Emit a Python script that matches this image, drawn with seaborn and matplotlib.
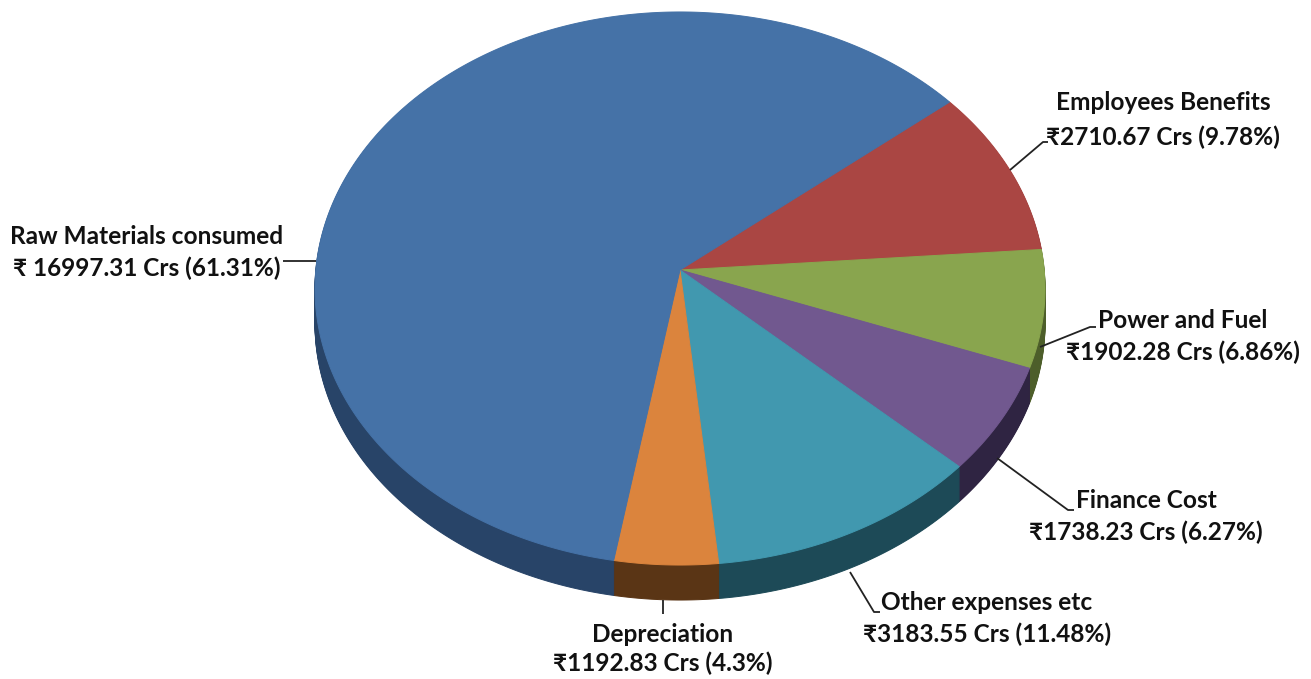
import numpy as np
import matplotlib
matplotlib.use("Agg")
import matplotlib.pyplot as plt
import matplotlib.transforms as mtransforms
from matplotlib.path import Path
import seaborn as sns

# Cost breakdown (Rs crore), listed clockwise from the top-right boundary
categories = ["Employees Benefits", "Power and Fuel", "Finance Cost",
              "Other expenses etc", "Depreciation", "Raw Materials consumed"]
amounts_crs = [2710.67, 1902.28, 1738.23, 3183.55, 1192.83, 16997.31]
share_pct = [9.78, 6.86, 6.27, 11.48, 4.3, 61.31]
rupee_gap = ["", "", "", "", "", " "]

top_colors = ["#AA4643", "#89A54E", "#71588F", "#4198AF", "#DB843D", "#4572A7"]
side_colors = ["#5e2624", "#4d5e2a", "#2f2442", "#1d4a57", "#5a3515", "#284468"]

value_labels = [f"₹{g}{a:.2f} Crs ({p}%)" for g, a, p in zip(rupee_gap, amounts_crs, share_pct)]

sns.set_style("white")
plt.rcParams["font.family"] = ["Lato", "DejaVu Sans"]

W, H = 1311, 679
CX, CY = 680.0, 270.0      # apex of the pie in pixels
RX, RY = 364.2, 275.3      # disc radii
TILT = 0.0669              # perspective foreshortening of the far side
DEPTH = 35                 # thickness of the disc in pixels
START = 39.5


class TiltedDisc(mtransforms.Transform):
    """Maps the unit pie disc onto a tilted, perspective view in pixels."""
    input_dims = output_dims = 2
    is_separable = False
    has_inverse = False

    def __init__(self, drop=0.0):
        super().__init__()
        self.drop = drop

    def transform_non_affine(self, values):
        values = np.asarray(values, float)
        u, v = values[:, 0], values[:, 1]
        w = 1.0 + TILT * v
        x = CX + RX * u / w
        y = CY - RY * v / w + self.drop
        return np.column_stack([x, y])

    def transform_path_non_affine(self, path):
        pieces = []
        for seg, code in path.iter_bezier(simplify=False):
            n = 60 if seg.degree > 1 else 2
            pieces.append(seg(np.linspace(0.0, 1.0, n)))
        verts = np.vstack(pieces + [pieces[0][:1]])
        return Path(self.transform_non_affine(verts), closed=True)


fig = plt.figure(figsize=(W / 100, H / 100), dpi=100)
ax = fig.add_axes([0, 0, 1, 1])


def draw_layer(colors, drop):
    wedges, _ = ax.pie(amounts_crs, colors=colors, startangle=START,
                       counterclock=False, wedgeprops=dict(linewidth=0.7))
    tr = TiltedDisc(drop) + ax.transData
    for wdg in wedges:
        wdg.set_transform(tr)
        wdg.set_edgecolor(wdg.get_facecolor())
    return wedges


# side wall built from stacked layers, then the top face
for d in range(DEPTH, 0, -1):
    draw_layer(side_colors, d)
draw_layer(top_colors, 0)

ax.set_aspect("auto")
ax.set_xlim(0, W)
ax.set_ylim(H, 0)
ax.axis("off")

# label placement: (centre x, first line y, second line y)
label_pos = [(1163, 103, 137), (1183, 320, 352), (1146, 500, 532),
             (987, 602, 634), (663, 634, 663), (147, 237, 268)]
leaders = [
    [(1010, 170), (1043, 142), (1048, 142)],
    [(1040, 347), (1090, 327), (1096, 327)],
    [(997, 458), (1068, 510), (1074, 510)],
    [(850, 572), (874, 612), (880, 612)],
    [(663, 600), (663, 614)],
    [(283, 261), (316, 261)],
]

font = dict(fontsize=17.6, fontweight="bold", color="#111111", ha="center", va="center")
for name, val, (lx, y1, y2), line in zip(categories, value_labels, label_pos, leaders):
    ax.text(lx, y1, name, **font)
    ax.text(lx, y2, val, **font)
    xs, ys = zip(*line)
    ax.plot(xs, ys, color="#222222", linewidth=1.3, solid_capstyle="butt")

fig.savefig("out.png", dpi=100, facecolor="white")
